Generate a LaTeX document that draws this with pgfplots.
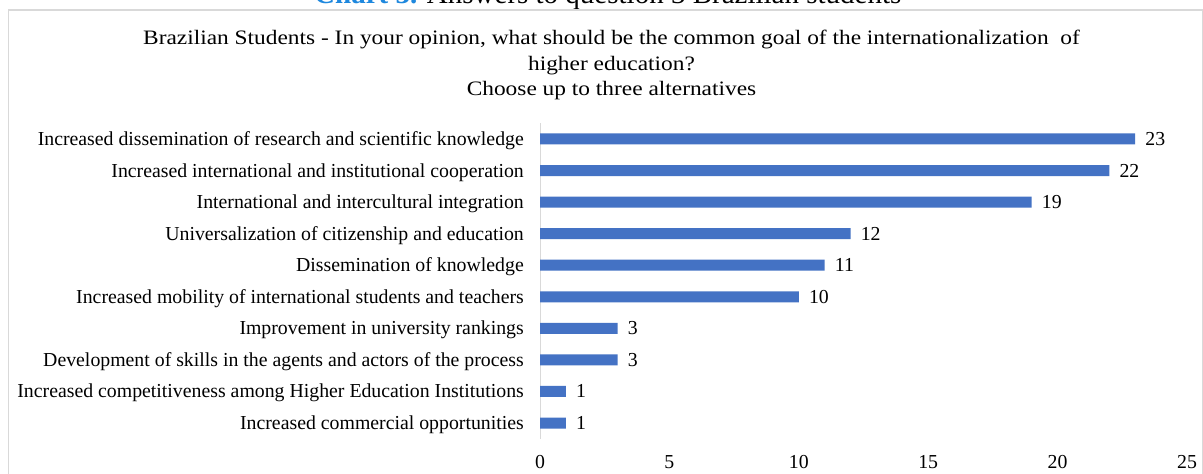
\documentclass[border=0pt]{standalone}
\usepackage{pgfplots}
\pgfplotsset{compat=1.18}
\usepackage{fontspec}
\setmainfont{Liberation Serif}
\definecolor{barblue}{HTML}{4472C4}
\definecolor{capblue}{RGB}{30,136,222}
\definecolor{framegray}{HTML}{D9D9D9}
\newcommand{\lbl}{\fontsize{19.8bp}{22bp}\selectfont}
\newcommand{\ttl}{\fontsize{20.5bp}{22bp}\selectfont}
\begin{document}
\begin{tikzpicture}
\clip (0,0) rectangle (1203bp,-474bp);
\fill[white] (0,0) rectangle (1203bp,-474bp);
% caption (cut off at top)
\node[anchor=base west, inner sep=0pt, font=\fontsize{29bp}{32bp}\selectfont] at (314bp,-3bp) {\textcolor{capblue}{\textbf{Chart 3.}} Answers to question 3 Brazilian students};
% frame
\draw[framegray, line width=1.5bp] (8.5bp,-1000bp) -- (8.5bp,-10bp) -- (1202.5bp,-10bp) -- (1202.5bp,-1000bp);
% title
\node[anchor=base, inner sep=0pt, font=\ttl] at (611.5bp,-44bp) {\scalebox{1.14}[1]{Brazilian Students - In your opinion, what should be the common goal of the internationalization\ \ of}};
\node[anchor=base, inner sep=0pt, font=\ttl] at (611.5bp,-70bp) {\scalebox{1.14}[1]{higher education?}};
\node[anchor=base, inner sep=0pt, font=\ttl] at (611.5bp,-95bp) {\scalebox{1.14}[1]{Choose up to three alternatives}};
\begin{axis}[
  at={(540bp,-438.8bp)}, anchor=south west,
  scale only axis, width=647bp, height=315.6bp,
  xmin=0, xmax=25, ymin=-0.5, ymax=9.5,
  xbar, bar width=11bp, bar shift=0pt,
  axis lines*=left,
  x axis line style={draw=none},
  y axis line style={draw=framegray, line width=1bp},
  major tick length=0pt,
  xtick={0,5,10,15,20,25},
  ytick={0,1,2,3,4,5,6,7,8,9},
  yticklabels={Increased commercial opportunities,
    Increased competitiveness among Higher Education Institutions,
    Development of skills in the agents and actors of the process,
    Improvement in university rankings,
    Increased mobility of international students and teachers,
    Dissemination of knowledge,
    Universalization of citizenship and education,
    International and intercultural integration,
    Increased international and institutional cooperation,
    Increased dissemination of research and scientific knowledge},
  /pgf/number format/assume math mode=true,
  tick label style={font=\lbl, inner sep=0pt},
  yticklabel style={anchor=base east, xshift=-16bp, yshift=-6.5bp},
  xticklabel style={anchor=center, yshift=-23bp},
  nodes near coords,
  nodes near coords align={horizontal},
  clip=false,
]
\addplot[fill=barblue, draw=none,
  every node near coord/.append style={font=\lbl, anchor=base west, inner sep=0pt, xshift=10bp, yshift=-6.5bp, text=black}]
  coordinates {(1,0) (1,1) (3,2) (3,3) (10,4) (11,5) (12,6) (19,7) (22,8) (23,9)};
\end{axis}
\end{tikzpicture}
\end{document}
